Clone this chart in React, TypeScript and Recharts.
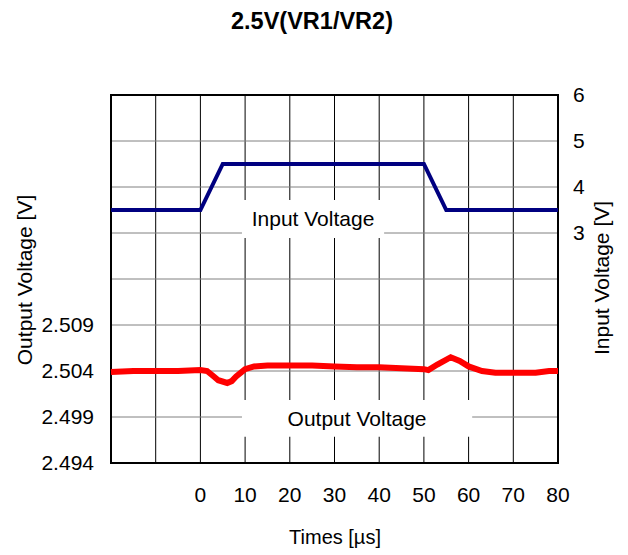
import React from "react";
import { LineChart, Line, XAxis, YAxis, CartesianGrid, ReferenceArea } from "recharts";

// time axis [µs]
const TIME_TICKS = [-20, -10, 0, 10, 20, 30, 40, 50, 60, 70, 80];
const OUT_TICKS = [2.494, 2.499, 2.504, 2.509, 2.514, 2.519, 2.524, 2.529, 2.534];
const IN_TICKS = [-2, -1, 0, 1, 2, 3, 4, 5, 6];

const inputTime = [-20, 0, 5, 50, 55, 80];
const inputVolt = [3.5, 3.5, 4.5, 4.5, 3.5, 3.5];

const outputTime = [-20, -15, -10, -5, 0, 1.5, 3, 4, 6, 7, 8, 10, 12, 15, 20, 25, 30, 35, 40, 45, 50, 51, 53, 56, 58, 60, 63, 66, 70, 75, 78, 80];
const outputVolt = [
  2.5039, 2.504, 2.504, 2.504, 2.5041, 2.504, 2.5034, 2.503, 2.5027, 2.5029, 2.5034, 2.5042, 2.5045, 2.5046, 2.5046,
  2.5046, 2.5045, 2.5044, 2.5044, 2.5043, 2.5042, 2.5041, 2.5047, 2.5055, 2.5051, 2.5045, 2.504, 2.5038, 2.5038,
  2.5038, 2.504, 2.504,
];

const inputData = inputTime.map((t, i) => ({ t, v: inputVolt[i] }));
const outputData = outputTime.map((t, i) => ({ t, v: outputVolt[i] }));

const FONT = "'Liberation Sans', Arial, sans-serif";
const tickStyle = { fill: "#000", fontSize: 21, fontFamily: FONT };

export default function App() {
  return (
    <div style={{ position: "absolute", left: 0, top: 0, background: "#fff" }}>
      <LineChart width={628} height={555} margin={{ top: 95, right: 30, bottom: 52, left: 11 }}>
        <CartesianGrid yAxisId="right" horizontal={false} stroke="#000" strokeWidth={1} />
        <CartesianGrid yAxisId="right" vertical={false} stroke="#808080" strokeWidth={1} />
        <XAxis
          dataKey="t"
          type="number"
          domain={[-20, 80]}
          ticks={TIME_TICKS}
          tickFormatter={(v: number) => (v < 0 ? "" : String(v))}
          axisLine={false}
          tickLine={false}
          tickSize={0}
          tickMargin={24}
          height={40}
          tick={tickStyle}
          allowDuplicatedCategory={false}
        />
        <YAxis
          yAxisId="left"
          type="number"
          domain={[2.494, 2.534]}
          ticks={OUT_TICKS}
          tickFormatter={(v: number) => (v > 2.51 ? "" : v.toFixed(3))}
          axisLine={false}
          tickLine={false}
          tickSize={0}
          tickMargin={17}
          width={100}
          tick={tickStyle}
        />
        <YAxis
          yAxisId="right"
          orientation="right"
          type="number"
          domain={[-2, 6]}
          ticks={IN_TICKS}
          tickFormatter={(v: number) => (v < 3 ? "" : String(v))}
          axisLine={false}
          tickLine={false}
          tickSize={0}
          tickMargin={15}
          width={40}
          tick={tickStyle}
        />
        <ReferenceArea
          yAxisId="right"
          x1={9.3}
          x2={41.1}
          y1={2.89}
          y2={3.72}
          fill="#fff"
          fillOpacity={1}
          stroke="none"
          label={{ value: "Input Voltage", position: "center", fontSize: 21, fill: "#000", fontFamily: FONT }}
        />
        <ReferenceArea
          yAxisId="right"
          x1={9.3}
          x2={60.8}
          y1={-1.43}
          y2={-0.63}
          fill="#fff"
          fillOpacity={1}
          stroke="none"
          label={{ value: "Output Voltage", position: "center", fontSize: 21, fill: "#000", fontFamily: FONT }}
        />
        <ReferenceArea yAxisId="right" x1={-20} x2={80} y1={-2} y2={6} fill="none" stroke="#000" strokeWidth={2} />
        <Line
          yAxisId="right"
          data={inputData}
          dataKey="v"
          type="linear"
          stroke="#000080"
          strokeWidth={4}
          dot={false}
          isAnimationActive={false}
        />
        <Line
          yAxisId="left"
          data={outputData}
          dataKey="v"
          type="linear"
          stroke="#ff0000"
          strokeWidth={6}
          dot={false}
          isAnimationActive={false}
        />
        <text x={312} y={29} textAnchor="middle" fontSize={23.5} fontWeight="bold" fontFamily={FONT} fill="#000">
          2.5V(VR1/VR2)
        </text>
        <text x={335} y={544} textAnchor="middle" fontSize={20} fontFamily={FONT} fill="#000">
          Times [µs]
        </text>
        <text
          x={24}
          y={280}
          textAnchor="middle"
          dominantBaseline="central"
          transform="rotate(-90 24 280)"
          fontSize={21}
          fontFamily={FONT}
          fill="#000"
        >
          Output Voltage [V]
        </text>
        <text
          x={601}
          y={278}
          textAnchor="middle"
          dominantBaseline="central"
          transform="rotate(-90 601 278)"
          fontSize={21}
          fontFamily={FONT}
          fill="#000"
        >
          Input Voltage [V]
        </text>
      </LineChart>
    </div>
  );
}
